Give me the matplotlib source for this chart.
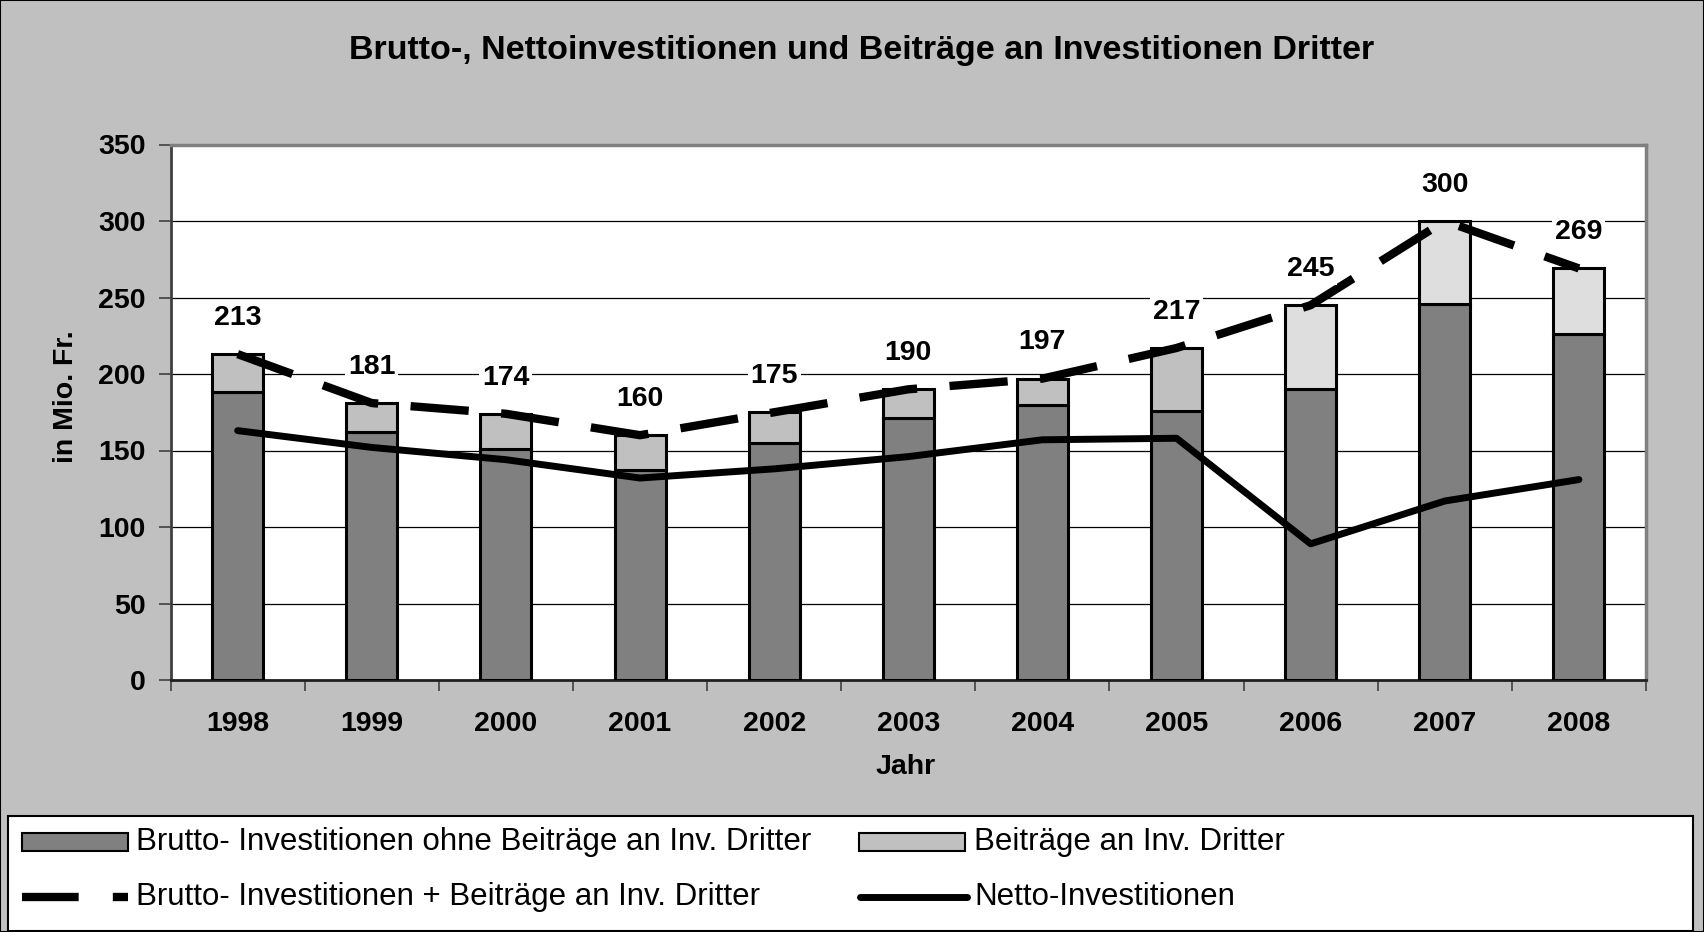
import matplotlib
matplotlib.use("Agg")
import matplotlib.pyplot as plt
from matplotlib.patches import Rectangle
from matplotlib.lines import Line2D
import numpy as np

plt.rcParams['font.family'] = ['Liberation Sans', 'DejaVu Sans']

# ---------------- data ----------------
years = ["1998", "1999", "2000", "2001", "2002", "2003", "2004", "2005", "2006", "2007", "2008"]
brutto_ohne = [188, 162, 151, 137, 155, 171, 180, 176, 190, 246, 226]
brutto_total = [213, 181, 174, 160, 175, 190, 197, 217, 245, 300, 269]
netto = [163, 152, 144, 132, 138, 146, 157, 158, 89, 117, 131]
beitraege = [t - b for t, b in zip(brutto_total, brutto_ohne)]
yticks = [0, 50, 100, 150, 200, 250, 300, 350]

title = "Brutto-, Nettoinvestitionen und Beiträge an Investitionen Dritter"
lbl_dark = "Brutto- Investitionen ohne Beiträge an Inv. Dritter"
lbl_light = "Beiträge an Inv. Dritter"
lbl_dash = "Brutto- Investitionen + Beiträge an Inv. Dritter"
lbl_solid = "Netto-Investitionen"

# ---------------- style ----------------
W, H = 1704, 932
BG = "#C0C0C0"
DARK = "#808080"
LIGHT = "#C0C0C0"
LIGHTER = "#DEDEDE"
light_colors = [LIGHT] * 8 + [LIGHTER] * 3


def fx(x):
    return x / W


def fy(y):
    return 1 - y / H


fig = plt.figure(figsize=(W / 100, H / 100), dpi=100, facecolor=BG)

# figure border
fig.add_artist(Rectangle((0, 0), 1, 1, transform=fig.transFigure, fill=False,
                         edgecolor="black", linewidth=1.5))

left, right, top, bottom = 170.6, 1646, 144.5, 680
ax = fig.add_axes([fx(left), fy(bottom), fx(right - left), (bottom - top) / H])
ax.set_facecolor("white")

x = np.arange(len(years))
bw = 0.38
ax.bar(x, brutto_ohne, width=bw, color=DARK, edgecolor="black", linewidth=2.2, zorder=3)
ax.bar(x, beitraege, width=bw, bottom=brutto_ohne, color=light_colors,
       edgecolor="black", linewidth=2.2, zorder=3)

ln_dash, = ax.plot(x, brutto_total, color="black", linewidth=6, zorder=4)
ln_dash.set_dashes([7.0, 3.9])
ax.plot(x, netto, color="black", linewidth=5, zorder=4,
        solid_capstyle="round", solid_joinstyle="round")

for xi, v in zip(x, brutto_total):
    ax.annotate(str(v), (xi, v), xytext=(0, 26), textcoords="offset points",
                ha="center", va="center", fontsize=20.5, fontweight="bold",
                bbox=dict(boxstyle="square,pad=0.1", facecolor="white", edgecolor="none"),
                zorder=5)

ax.set_xlim(-0.5, len(years) - 0.5)
ax.set_ylim(0, 350)
ax.set_yticks(yticks)
ax.set_yticklabels([str(t) for t in yticks], fontsize=20.5, fontweight="bold")
ax.yaxis.grid(True, color="black", linewidth=0.9, zorder=0)
ax.set_axisbelow(True)
ax.tick_params(axis="y", length=9, width=1.2, pad=9, color="#404040")

ax.set_xticks(x)
ax.set_xticklabels(years, fontsize=20.5, fontweight="bold")
ax.set_xticks(np.arange(-0.5, len(years)), minor=True)
ax.tick_params(axis="x", which="major", length=0, pad=22)
ax.tick_params(axis="x", which="minor", length=8, width=1.2, color="#404040")

for s in ["top", "right"]:
    ax.spines[s].set_color(DARK)
    ax.spines[s].set_linewidth(2.5)
ax.spines["left"].set_color("#404040")
ax.spines["left"].set_linewidth(2)
ax.spines["bottom"].set_color("#202020")
ax.spines["bottom"].set_linewidth(2)

# titles
fig.text(fx(862), fy(50), title, ha="center", va="center", fontsize=24.5, fontweight="bold")
fig.text(fx(906), fy(767), "Jahr", ha="center", va="center", fontsize=20.5, fontweight="bold")
fig.text(fx(66), fy(397), "in Mio. Fr.", ha="center", va="center", rotation=90,
         fontsize=20.5, fontweight="bold")

# legend (manual, to match the reference layout)
fig.add_artist(Rectangle((fx(8), fy(931)), fx(1693 - 8), (931 - 816) / H,
                         transform=fig.transFigure, facecolor="white",
                         edgecolor="black", linewidth=1.5))
r1, r2 = 842, 897
ph = 18
fig.add_artist(Rectangle((fx(22), fy(r1 + ph / 2)), fx(128 - 22), ph / H,
                         transform=fig.transFigure, facecolor=DARK,
                         edgecolor="black", linewidth=1.5))
fig.add_artist(Rectangle((fx(859), fy(r1 + ph / 2)), fx(965 - 859), ph / H,
                         transform=fig.transFigure, facecolor=LIGHT,
                         edgecolor="black", linewidth=1.5))
leg_dash = Line2D([fx(22), fx(128)], [fy(r2), fy(r2)], transform=fig.transFigure,
                  color="black", linewidth=6)
leg_dash.set_dashes([6.8, 4.1])
fig.add_artist(leg_dash)
fig.add_artist(Line2D([fx(860), fx(967)], [fy(r2), fy(r2)], transform=fig.transFigure,
                      color="black", linewidth=5, solid_capstyle="round"))
fs_leg = 22.5
fig.text(fx(136), fy(r1), lbl_dark, ha="left", va="center", fontsize=fs_leg)
fig.text(fx(974), fy(r1), lbl_light, ha="left", va="center", fontsize=fs_leg)
fig.text(fx(136), fy(r2), lbl_dash, ha="left", va="center", fontsize=fs_leg)
fig.text(fx(974), fy(r2), lbl_solid, ha="left", va="center", fontsize=fs_leg)

fig.savefig("out.png", dpi=100, facecolor=BG)
